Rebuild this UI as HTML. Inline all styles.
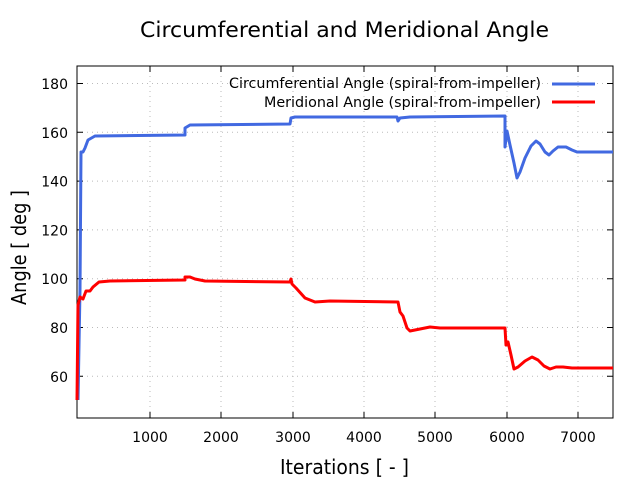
<!DOCTYPE html>
<html><head><style>body{margin:0;background:#fff}svg{display:block}text{font-family:"DejaVu Sans","Liberation Sans",sans-serif}</style></head><body>
<svg width="640" height="480" viewBox="0 0 640 480" xmlns="http://www.w3.org/2000/svg">
<rect width="640" height="480" fill="#fff"/>
<g stroke="#bbb" stroke-width="1" stroke-dasharray="1,4">
<line x1="150" y1="66" x2="150" y2="418"/><line x1="221" y1="66" x2="221" y2="418"/><line x1="293" y1="66" x2="293" y2="418"/><line x1="364" y1="66" x2="364" y2="418"/><line x1="435" y1="66" x2="435" y2="418"/><line x1="507" y1="66" x2="507" y2="418"/><line x1="578" y1="66" x2="578" y2="418"/>
<line x1="77" y1="83.5" x2="612" y2="83.5"/><line x1="77" y1="132.3" x2="612" y2="132.3"/><line x1="77" y1="181.1" x2="612" y2="181.1"/><line x1="77" y1="229.9" x2="612" y2="229.9"/><line x1="77" y1="278.7" x2="612" y2="278.7"/><line x1="77" y1="327.5" x2="612" y2="327.5"/><line x1="77" y1="376.3" x2="612" y2="376.3"/>
</g>
<rect x="77" y="66" width="536" height="352" fill="none" stroke="#000" stroke-width="1"/>
<g stroke="#000" stroke-width="1">
<path d="M150 418v-6M221 418v-6M293 418v-6M364 418v-6M435 418v-6M507 418v-6M578 418v-6M150 66v6M221 66v6M293 66v6M364 66v6M435 66v6M507 66v6M578 66v6"/>
<path d="M77 83.5h6M77 132.3h6M77 181.1h6M77 229.9h6M77 278.7h6M77 327.5h6M77 376.3h6M613 83.5h-6M613 132.3h-6M613 181.1h-6M613 229.9h-6M613 278.7h-6M613 327.5h-6M613 376.3h-6"/>
</g>
<g font-size="14" text-anchor="end"><text x="68" y="89">180</text><text x="68" y="137.8">160</text><text x="68" y="186.6">140</text><text x="68" y="235.4">120</text><text x="68" y="284.2">100</text><text x="68" y="333">80</text><text x="68" y="381.8">60</text></g>
<g font-size="14" text-anchor="middle"><text x="150" y="442">1000</text><text x="221" y="442">2000</text><text x="293" y="442">3000</text><text x="364" y="442">4000</text><text x="435" y="442">5000</text><text x="507" y="442">6000</text><text x="578" y="442">7000</text></g>
<text x="140" y="37" font-size="21" textLength="409" lengthAdjust="spacingAndGlyphs">Circumferential and Meridional Angle</text>
<text x="280" y="474" font-size="20" textLength="129" lengthAdjust="spacingAndGlyphs">Iterations [ - ]</text>
<text transform="translate(26,305) rotate(-90)" font-size="20" textLength="115" lengthAdjust="spacingAndGlyphs">Angle [ deg ]</text>
<g font-size="14"><text x="229" y="88" textLength="312" lengthAdjust="spacingAndGlyphs">Circumferential Angle (spiral-from-impeller)</text><text x="264" y="107" textLength="277" lengthAdjust="spacingAndGlyphs">Meridional Angle (spiral-from-impeller)</text></g>
<line x1="552" y1="84" x2="595" y2="84" stroke="#4169e1" stroke-width="3"/>
<line x1="552" y1="102" x2="595" y2="102" stroke="#f00" stroke-width="3"/>
<polyline fill="none" stroke="#4169e1" stroke-width="3" stroke-linejoin="round" points="78,400 80,290 81,152 83,152 85,148 88,140 95,136 185,135 185,128 190,125 290,124 291,118 295,117 397,117 398,121 400,118 410,117 505,116 505,147 507,131 510,145 514,163 517,178 520,172 525,158 531,146 536,141 540,144 545,152 549,155 553,151 558,147 566,147 572,150 577,152 613,152"/>
<polyline fill="none" stroke="#f00" stroke-width="3" stroke-linejoin="round" points="77,400 78,305 80,297 83,299 86,291 90,291 93,287 99,282 110,281 185,280 185,277 190,277 195,279 205,281 290,282 291,279 292,284 296,288 305,298 315,302 330,301 398,302 400,312 403,316 407,328 410,331 420,329 430,327 440,328 505,328 506,345 508,342 511,355 514,369 518,367 525,361 532,357 538,360 544,366 550,369 556,367 563,367 572,368 613,368"/>
</svg>
</body></html>
